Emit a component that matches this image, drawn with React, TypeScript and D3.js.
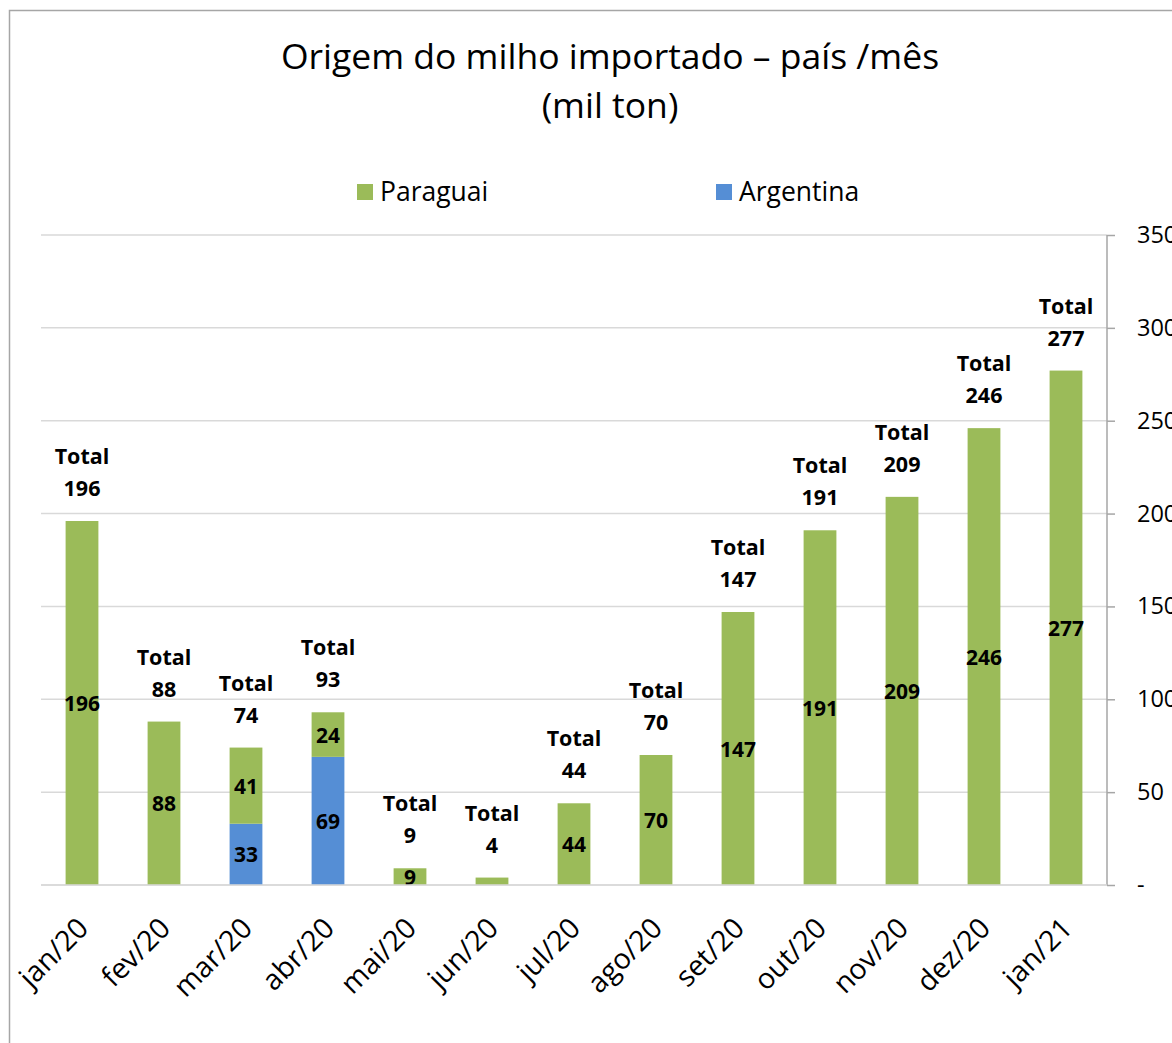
import React, { useEffect, useRef } from 'react';
import * as d3 from 'd3';

const months = ['jan/20', 'fev/20', 'mar/20', 'abr/20', 'mai/20', 'jun/20', 'jul/20', 'ago/20', 'set/20', 'out/20', 'nov/20', 'dez/20', 'jan/21'];
const paraguai = [196, 88, 41, 24, 9, 4, 44, 70, 147, 191, 209, 246, 277];
const argentina = [0, 0, 33, 69, 0, 0, 0, 0, 0, 0, 0, 0, 0];
const yTicks = [0, 50, 100, 150, 200, 250, 300, 350];

const GREEN = '#9BBB59';
const BLUE = '#558ED5';
const FONT = '"Open Sans", "Liberation Sans", sans-serif';

export default function App() {
  const ref = useRef<SVGSVGElement>(null);

  useEffect(() => {
    const svg = d3.select(ref.current);
    svg.selectAll('*').remove();

    const left = 41, right = 1107, top = 235, bottom = 885;

    const x = d3.scaleBand().domain(months).range([left, right]).paddingInner(0.6).paddingOuter(0.3);
    const y = d3.scaleLinear().domain([0, 350]).range([bottom, top]);

    // border
    svg.append('rect')
      .attr('x', 9.5).attr('y', 10.5).attr('width', 1300).attr('height', 1200)
      .attr('fill', 'white').attr('stroke', '#a6a6a6').attr('stroke-width', 1.5);

    // title
    const title = svg.append('text').attr('x', 610).attr('text-anchor', 'middle')
      .attr('font-family', FONT).attr('font-size', 35.5).attr('fill', '#000');
    title.append('tspan').attr('x', 610).attr('y', 69).text('Origem do milho importado – país /mês');
    title.append('tspan').attr('x', 610).attr('y', 118).text('(mil ton)');

    // legend
    const legend = [{ name: 'Paraguai', color: GREEN, x: 357 }, { name: 'Argentina', color: BLUE, x: 716 }];
    legend.forEach(l => {
      svg.append('rect').attr('x', l.x).attr('y', 184).attr('width', 16).attr('height', 16).attr('fill', l.color);
      svg.append('text').attr('x', l.x + 23).attr('y', 201).attr('font-family', FONT).attr('font-size', 26.5)
        .attr('fill', '#000').text(l.name);
    });

    // gridlines
    svg.append('g').selectAll('line').data(yTicks).enter().append('line')
      .attr('x1', left).attr('x2', right)
      .attr('y1', d => y(d)).attr('y2', d => y(d))
      .attr('stroke', '#d9d9d9').attr('stroke-width', 1.5);

    // right axis
    const yAxis = d3.axisRight(y).tickValues(yTicks).tickSize(8).tickPadding(22)
      .tickFormat(d => (d === 0 ? '-' : String(d)));
    const ag = svg.append('g').attr('transform', `translate(${right},0)`).call(yAxis);
    ag.select('.domain').attr('stroke', '#a6a6a6').attr('stroke-width', 1.5).attr('d', `M0,${top}V${bottom}`);
    ag.selectAll('.tick line').attr('stroke', '#a6a6a6').attr('stroke-width', 1.5);
    ag.selectAll('.tick text').attr('font-family', FONT).attr('font-size', 23.5).attr('fill', '#000');

    const rows = months.map((m, i) => ({ month: m, Argentina: argentina[i], Paraguai: paraguai[i] }));
    const stack = d3.stack<any>().keys(['Argentina', 'Paraguai'])(rows);
    const colors: Record<string, string> = { Argentina: BLUE, Paraguai: GREEN };

    stack.forEach(series => {
      const g = svg.append('g');
      g.selectAll('rect').data(series).enter().append('rect')
        .attr('x', d => x(d.data.month)!)
        .attr('y', d => y(d[1]))
        .attr('width', x.bandwidth())
        .attr('height', d => y(d[0]) - y(d[1]))
        .attr('fill', colors[series.key]);
      g.selectAll('text').data(series.filter(d => d[1] - d[0] >= 5)).enter().append('text')
        .attr('x', d => x(d.data.month)! + x.bandwidth() / 2)
        .attr('y', d => (y(d[0]) + y(d[1])) / 2 + 8)
        .attr('text-anchor', 'middle')
        .attr('font-family', FONT).attr('font-weight', 'bold').attr('font-size', 21).attr('fill', '#000')
        .text(d => d[1] - d[0]);
    });

    // totals
    const totals = months.map((m, i) => ({ month: m, total: paraguai[i] + argentina[i] }));
    const tg = svg.append('g');
    totals.forEach(t => {
      const cx = x(t.month)! + x.bandwidth() / 2;
      const txt = tg.append('text').attr('text-anchor', 'middle')
        .attr('font-family', FONT).attr('font-weight', 'bold').attr('font-size', 21.5).attr('fill', '#000');
      txt.append('tspan').attr('x', cx).attr('y', y(t.total) - 57).text('Total');
      txt.append('tspan').attr('x', cx).attr('y', y(t.total) - 25).text(t.total);
    });

    // baseline
    svg.append('line').attr('x1', left).attr('x2', right).attr('y1', bottom).attr('y2', bottom)
      .attr('stroke', '#d9d9d9').attr('stroke-width', 1.5);

    // x labels
    svg.append('g').selectAll('text').data(months).enter().append('text')
      .attr('transform', d => `translate(${x(d)! + x.bandwidth() / 2 + 8},${bottom + 45}) rotate(-45)`)
      .attr('text-anchor', 'end')
      .attr('font-family', FONT).attr('font-size', 28.5).attr('fill', '#000')
      .text(d => d);
  }, []);

  return (
    <div style={{ position: 'absolute', left: 0, top: 0 }}>
      <svg ref={ref} width={1172} height={1043} style={{ display: 'block', background: 'white' }} />
    </div>
  );
}
